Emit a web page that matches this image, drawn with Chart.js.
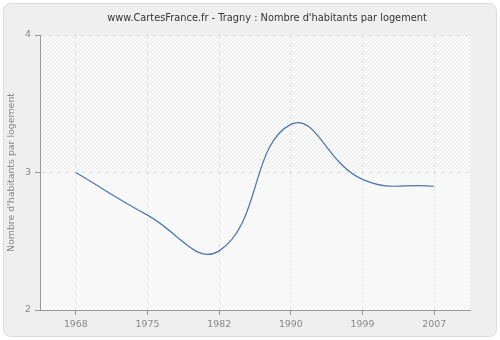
<!DOCTYPE html>
<html>
<head>
<meta charset="utf-8">
<script src="https://cdn.jsdelivr.net/npm/chart.js@4/dist/chart.umd.min.js"></script>
<style>
  html, body { margin: 0; padding: 0; background: #fff; }
  #wrap { width: 500px; height: 340px; position: relative; }
</style>
</head>
<body>
<div id="wrap"><canvas id="c" width="500" height="340"></canvas></div>
<script>
// Tragny - nombre d'habitants par logement
const chartTitle = "www.CartesFrance.fr - Tragny : Nombre d'habitants par logement";
const years = ["1968", "1975", "1982", "1990", "1999", "2007"];
const values = [3.0, 2.69, 2.43, 3.35, 2.95, 2.9];
const yTicks = [2, 3, 4];

// panel frame + hatched plot background + title
const backdrop = {
  id: "backdrop",
  beforeDraw(chart) {
    const ctx = chart.ctx;
    const a = chart.chartArea;
    ctx.save();
    ctx.fillStyle = "#fff";
    ctx.fillRect(0, 0, chart.width, chart.height);
    ctx.beginPath();
    ctx.roundRect(3.5, 3.5, chart.width - 7, chart.height - 7, 7);
    ctx.fillStyle = "#efefef";
    ctx.fill();
    ctx.strokeStyle = "#dcdcdc";
    ctx.lineWidth = 1;
    ctx.stroke();

    ctx.fillStyle = "#fbfbfb";
    ctx.fillRect(a.left, a.top, a.right - a.left, a.bottom - a.top);

    const mid = chart.scales.y.getPixelForValue(3);
    const h = a.bottom - a.top;
    const drawHatch = (y0, y1, color) => {
      ctx.save();
      ctx.beginPath();
      ctx.rect(a.left, y0, a.right - a.left, y1 - y0);
      ctx.clip();
      ctx.strokeStyle = color;
      ctx.lineWidth = 1;
      ctx.beginPath();
      for (let x = a.left - h; x < a.right + h; x += 4) {
        ctx.moveTo(x, a.bottom);
        ctx.lineTo(x + h, a.top);
      }
      ctx.stroke();
      ctx.restore();
    };
    drawHatch(a.top, mid, "#e7e7e7");
    drawHatch(mid, a.bottom, "#f1f1f1");

    ctx.fillStyle = "#333";
    ctx.font = "9.8px 'DejaVu Sans'";
    ctx.textAlign = "center";
    ctx.textBaseline = "middle";
    ctx.fillText(chartTitle, 267, 18);
    ctx.restore();
  }
};

new Chart(document.getElementById("c"), {
  type: "line",
  data: {
    labels: years,
    datasets: [{
      data: values,
      borderColor: "#4a76ad",
      borderWidth: 1.2,
      pointRadius: 0,
      tension: 0.45,
      fill: false
    }]
  },
  options: {
    responsive: false,
    animation: false,
    layout: { padding: { top: 35, left: 5, right: 30, bottom: 5 } },
    plugins: {
      legend: { display: false },
      tooltip: { enabled: false },
      title: { display: false }
    },
    scales: {
      x: {
        offset: true,
        afterFit(s) { s.height = 25; },
        grid: {
          offset: false,
          color: "#e0e0e0",
          tickColor: "#999",
          tickBorderDash: [],
          tickLength: 5
        },
        border: { color: "#999", width: 1, dash: [4, 4] },
        ticks: { color: "#888", font: { family: "DejaVu Sans", size: 9.4 }, padding: 4, maxRotation: 0 }
      },
      y: {
        min: 2,
        max: 4,
        afterFit(s) { s.width = 35; },
        afterBuildTicks(s) { s.ticks = yTicks.map(v => ({ value: v })); },
        grid: {
          color: "#e0e0e0",
          tickColor: "#999",
          tickBorderDash: [],
          tickLength: 5
        },
        border: { color: "#999", width: 1, dash: [4, 4] },
        ticks: { color: "#888", font: { family: "DejaVu Sans", size: 9.4 }, padding: 4 },
        title: {
          display: true,
          text: "Nombre d'habitants par logement",
          color: "#888",
          font: { family: "DejaVu Sans", size: 9.4 },
          padding: { top: 1, bottom: 0 }
        }
      }
    }
  },
  plugins: [backdrop]
});
</script>
</body>
</html>
